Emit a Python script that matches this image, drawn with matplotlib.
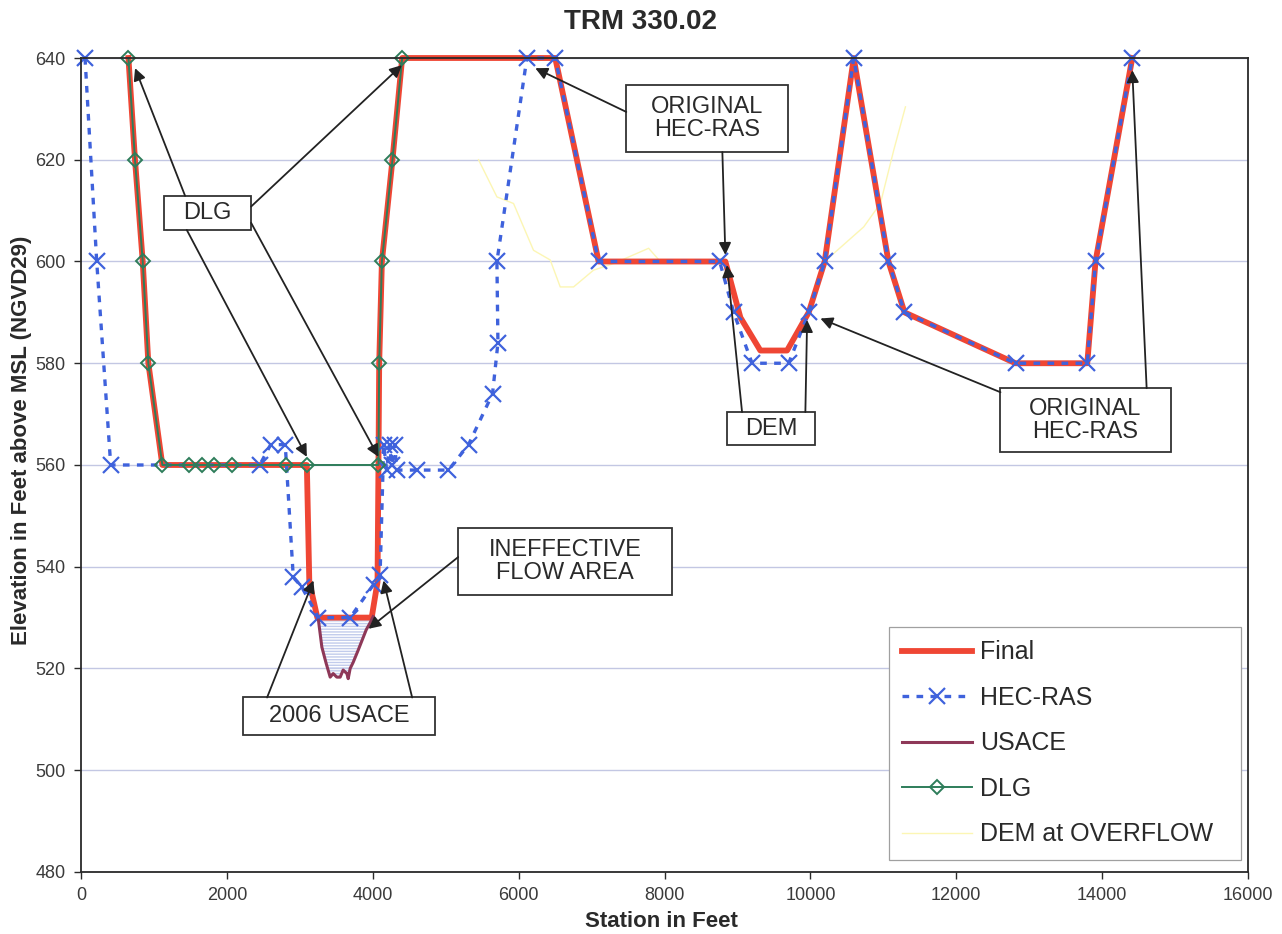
import matplotlib.pyplot as plt
from matplotlib.patches import Rectangle

# Cross section TRM 330.02 - stations (ft) and elevations (ft NGVD29)
final_x = [650, 740, 846, 923, 1115, 3096, 3130, 3240, 3985, 4065, 4078, 4088, 4125, 4270, 4403,
           6502, 7096, 8834, 9040, 9314, 9680, 9977, 10196, 10594, 11070, 11290, 12812, 13796, 13909, 14413]
final_y = [640, 620, 600, 580, 560, 560, 537, 530, 530, 537, 560, 580, 600, 620, 640,
           640, 600, 600, 589, 582.5, 582.5, 590, 600, 640, 600, 590, 580, 580, 600, 640]

hecras_x = [55, 215, 407, 2450, 2600, 2800, 2910, 3027, 3255, 3690, 4010, 4100, 4150, 4190, 4230, 4260,
            4300, 4330, 4605, 5038, 5313, 5642, 5716, 5702, 6113, 6502, 7096, 8756, 8948, 9200, 9702,
            9977, 10196, 10594, 11070, 11290, 12812, 13796, 13909, 14413]
hecras_y = [640, 600, 560, 560, 564, 564, 538, 536, 530, 530, 536.5, 538.4, 564, 559, 564, 560,
            564, 559, 559, 559, 564, 574, 584, 600, 640, 640, 600, 600, 590, 580, 580,
            590, 600, 640, 600, 590, 580, 580, 600, 640]

usace_x = [3255, 3302, 3361, 3416, 3457, 3507, 3553, 3594, 3645, 3663, 3690, 3731, 3800, 3855, 3910, 3964, 4005]
usace_y = [529.5, 524.2, 521.0, 518.3, 519.0, 518.3, 518.3, 519.7, 519.0, 518.0, 520.0, 521.2, 523.6, 525.6, 527.6, 529.0, 530.2]

dlg_x = [650, 740, 846, 923, 1115, 1481, 1656, 1824, 2075, 2808, 3096, 4078, 4088, 4125, 4270, 4403]
dlg_y = [640, 620, 600, 580, 560, 560, 560, 560, 560, 560, 560, 560, 580, 600, 620, 640]

dem_x = [5450, 5702, 5930, 6067, 6204, 6433, 6570, 6753, 7027, 7302, 7782, 7942, 8800, 9040, 9314,
         9680, 9977, 10196, 10274, 10731, 10960, 11143, 11303]
dem_y = [620, 612.7, 611.4, 606.8, 602.2, 600.3, 595, 595, 598.3, 599.6, 602.6, 600, 600, 589, 582.5,
         582.5, 590, 600, 601, 606.8, 611.4, 621.9, 630.4]

ineffective_top = 530  # top of the ineffective flow area

# callout boxes: (text, x0, y0, x1, y1) in data units
boxes = [
    ('DLG', 1139, 606.2, 2332, 612.9),
    ('ORIGINAL\nHEC-RAS', 7476, 621.5, 9698, 634.7),
    ('DEM', 8861, 563.9, 10069, 570.4),
    ('ORIGINAL\nHEC-RAS', 12606, 562.5, 14938, 575.1),
    ('INEFFECTIVE\nFLOW AREA', 5171, 534.4, 8107, 547.6),
    ('2006 USACE', 2222, 506.9, 4856, 514.3),
]
# arrows: (start, tip)
arrows = [
    ((1427, 612.9), (741, 638)),
    ((2332, 610.8), (4399, 638.6)),
    ((1450, 606.2), (3096, 561.6)),
    ((2332, 607.6), (4078, 561.6)),
    ((7476, 629.4), (6228, 638)),
    ((8793, 621.5), (8834, 601.3)),
    ((9063, 570.4), (8857, 599.3)),
    ((9931, 570.4), (9955, 588.5)),
    ((12606, 574.3), (10137, 588.8)),
    ((14610, 575.1), (14413, 637.6)),
    ((5171, 541.9), (3941, 527.8)),
    ((2551, 514.3), (3187, 537.3)),
    ((4540, 514.3), (4147, 537.3)),
]

plt.rcParams['font.family'] = ['Liberation Sans', 'DejaVu Sans']

fig = plt.figure(figsize=(12.82, 9.34), dpi=100)
ax = fig.add_axes([0.0632, 0.0664, 0.9103, 0.8715])

# grid first so everything sits on top of it
ax.set_yticks(range(480, 641, 20))
ax.set_xticks(range(0, 16001, 2000))
ax.grid(axis='y', color='#c3c7e3', lw=1.0)
ax.set_axisbelow(True)

# hatched ineffective flow area under the 530 line
ax.fill_between(usace_x, usace_y, ineffective_top, facecolor='none', edgecolor='#c2ccec',
                hatch='------', lw=0)

# DEM is very faint and sits under everything else
ax.plot(dem_x, dem_y, color='#fcf6b4', lw=1.0, label='DEM at OVERFLOW', zorder=1.5)
ax.plot(final_x, final_y, color='#ef4634', lw=4.2, label='Final', clip_on=False, solid_joinstyle='round')
ax.plot(hecras_x, hecras_y, color='#3f62dc', lw=2.4, ls=(0, (2, 2.2)), marker='x', ms=11, mew=1.6,
        label='HEC-RAS', clip_on=False)
ax.plot(usace_x, usace_y, color='#8e3858', lw=2.2, label='USACE')
ax.plot(dlg_x, dlg_y, color='#2e7d5a', lw=1.4, marker='D', ms=7, mfc='none', mec='#2e7d5a', mew=1.4,
        label='DLG', clip_on=False)

# callouts
for txt, x0, y0, x1, y1 in boxes:
    ax.add_patch(Rectangle((x0, y0), x1 - x0, y1 - y0, fc='white', ec='#333333', lw=1.3, zorder=6))
    ax.text((x0 + x1) / 2, (y0 + y1) / 2, txt, ha='center', va='center', fontsize=17,
            color='#2a2a2a', linespacing=1.05, zorder=7)
for start, tip in arrows:
    ax.annotate('', xy=tip, xytext=start, zorder=8,
                arrowprops=dict(arrowstyle='-|>', color='#222222', lw=1.3, mutation_scale=18,
                                shrinkA=0, shrinkB=0))

ax.set_xlim(0, 16000)
ax.set_ylim(480, 640)
for s in ax.spines.values():
    s.set_color('#2a2a2a')
    s.set_linewidth(1.3)
ax.tick_params(direction='out', length=5, width=1, colors='#2a2a2a', labelsize=13, pad=6)
ax.tick_params(labelcolor='#3a3a3a')

ax.set_xlabel('Station in Feet', fontsize=16, fontweight='bold', color='#2a2a2a')
ax.xaxis.set_label_coords(0.497, -0.061)
ax.xaxis.label.set_va('center')
ax.set_ylabel('Elevation in Feet above MSL (NGVD29)', fontsize=16, fontweight='bold', color='#2a2a2a')
ax.yaxis.set_label_coords(-0.051, 0.53)
ax.yaxis.label.set_va('center')
fig.text(640 / 1282, 1 - 22 / 934, 'TRM 330.02', ha='center', va='center', fontsize=20,
         fontweight='bold', color='#2a2a2a')

# legend order as in the original chart
handles, labels = ax.get_legend_handles_labels()
order = ['Final', 'HEC-RAS', 'USACE', 'DLG', 'DEM at OVERFLOW']
handles = [handles[labels.index(name)] for name in order]
leg = ax.legend(handles, order, loc='lower left', bbox_to_anchor=(0.692, 0.0147, 0.302, 0.282),
                mode='expand', borderaxespad=0, fontsize=18, frameon=True, fancybox=False,
                edgecolor='#a0a0a0', framealpha=1, handlelength=2.8, handletextpad=0.3,
                labelspacing=0.86, borderpad=0.55)
leg.get_frame().set_linewidth(0.9)
for t in leg.get_texts():
    t.set_color('#2a2a2a')

plt.savefig('out.png', dpi=100)
